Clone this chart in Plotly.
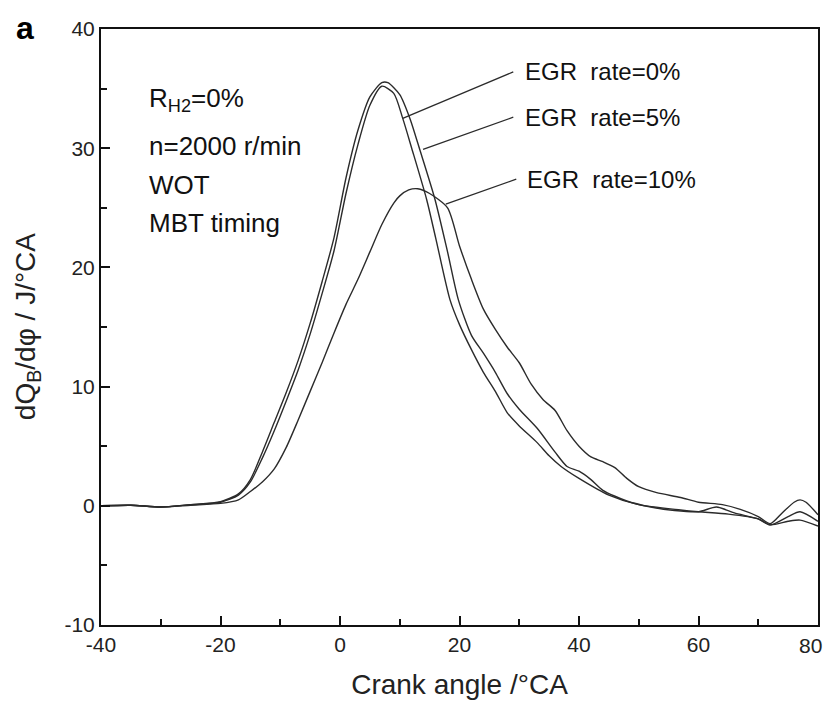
"""
Heat release rate vs crank angle for three EGR rates
"""

import plotly.graph_objects as go

# crank angle (deg CA) and heat release rate (J/deg CA)
angle_0 = [-40, -35, -30, -25, -20, -17, -15, -13, -11, -9, -7, -5, -3, -1, 1, 3, 5, 7, 9,
           10.5, 12, 14.5, 16, 18.4, 20, 22, 24, 26, 28, 30, 33, 35, 37, 40, 45, 50, 57,
           60, 65, 70, 72, 75, 77, 80]
egr_0 = [0, 0.05, -0.1, 0.1, 0.3, 0.9, 2.0, 4.0, 6.3, 8.8, 11.4, 14.4, 17.8, 21.4, 26.2,
         30.3, 33.6, 35.2, 34.6, 32.5, 30.0, 25.7, 22.5, 17.3, 15.2, 13.1, 11.2, 9.6, 7.8,
         6.7, 5.3, 4.2, 3.3, 2.3, 0.9, 0.1, -0.35, -0.5, -0.7, -1.1, -1.6, -1.3, -1.2, -1.7]

angle_5 = [-40, -35, -30, -25, -20, -17, -15, -13, -11, -9, -7, -5, -3, -1, 1, 3, 5, 7, 8,
           10, 11.7, 13.4, 15.9, 18, 19.8, 22, 24, 26, 28, 30, 33, 36, 38, 40, 42, 44, 48,
           52, 56, 60, 63, 66, 70, 72, 75, 77, 80]
egr_5 = [0, 0.05, -0.1, 0.1, 0.35, 1.0, 2.2, 4.5, 7.0, 9.5, 12.2, 15.3, 18.8, 22.5, 27.5,
         31.5, 34.3, 35.5, 35.5, 34.5, 32.5, 29.8, 25.7, 21.3, 17.3, 14.3, 12.8, 11.2, 9.4,
         8.1, 6.5, 4.5, 3.3, 2.9, 2.2, 1.3, 0.4, -0.1, -0.4, -0.5, -0.1, -0.6, -1.1, -1.6,
         -0.9, -0.5, -1.3]

angle_10 = [-40, -35, -30, -25, -20, -17, -15, -13, -11, -9, -7, -5, -3, -1, 1, 3, 5, 7, 9,
            10, 11.5, 13, 15, 18, 20, 22, 24, 26, 28, 30, 32, 34, 36, 38, 40, 42, 44, 46,
            48, 50, 53, 57, 60, 64, 67, 70, 72, 74, 76, 77, 78, 80]
egr_10 = [0, 0.05, -0.1, 0.05, 0.2, 0.5, 1.2, 2.0, 3.1, 4.9, 7.2, 9.6, 12.0, 14.5, 16.9,
          19.0, 21.3, 23.6, 25.4, 26.0, 26.5, 26.6, 26.2, 25.0, 21.8, 19.0, 16.5, 14.8,
          13.3, 12.0, 10.2, 8.9, 8.0, 6.3, 5.0, 4.1, 3.7, 3.2, 2.3, 1.6, 1.1, 0.7, 0.3,
          0.1, -0.3, -0.9, -1.5, -0.6, 0.3, 0.5, 0.3, -0.75]

x_ticks = [-40, -20, 0, 20, 40, 60, 80]
y_ticks = [-10, 0, 10, 20, 30, 40]

FONT = "Liberation Sans, Arial, sans-serif"
LINE = "#2b2b2b"

fig = go.Figure()

for xs, ys, name in [(angle_0, egr_0, "EGR rate=0%"),
                     (angle_5, egr_5, "EGR rate=5%"),
                     (angle_10, egr_10, "EGR rate=10%")]:
    fig.add_trace(go.Scatter(
        x=xs, y=ys, mode="lines", name=name,
        line=dict(color=LINE, width=1.4, shape="spline", smoothing=0.7),
    ))

# curve labels with pointer lines
labels = [
    ("EGR  rate=0%", 30.6, 36.4, 29.0, 36.4, 10.5, 32.5),
    ("EGR  rate=5%", 30.6, 32.6, 29.0, 32.6, 13.9, 29.9),
    ("EGR  rate=10%", 31.0, 27.4, 29.5, 27.4, 17.7, 25.3),
]
for text, tx, ty, x0, y0, x1, y1 in labels:
    fig.add_annotation(x=tx, y=ty, text=text, showarrow=False, xanchor="left",
                       yanchor="middle", font=dict(size=24, color="#111", family=FONT))
    fig.add_shape(type="line", x0=x0, y0=y0, x1=x1, y1=y1,
                  line=dict(color=LINE, width=1.3))

# operating conditions
conditions = ["R<sub>H2</sub>=0%", "n=2000 r/min", "WOT", "MBT timing"]
cond_y = [34.1, 30.2, 26.95, 23.7]
for text, y in zip(conditions, cond_y):
    fig.add_annotation(x=-32.3, y=y, text=text, showarrow=False,
                       xanchor="left", yanchor="middle",
                       font=dict(size=26, color="#111", family=FONT))

# panel letter
fig.add_annotation(x=-0.121, y=1.035, xref="paper", yref="paper", text="<b>a</b>",
                   showarrow=False, xanchor="left", yanchor="top",
                   font=dict(size=32, color="#000", family=FONT))

# y axis title
fig.add_annotation(x=-0.103, y=0.5, xref="paper", yref="paper",
                   text="dQ<sub>B</sub>/dφ / J/°CA", textangle=-90, showarrow=False,
                   xanchor="center", yanchor="middle",
                   font=dict(size=28, color="#222", family=FONT))

# last x tick label is pulled in a little so it stays on the page
x_ticktext = [str(v) for v in x_ticks]
x_ticktext[-1] = ""
fig.add_annotation(x=1.008, y=-0.012, xref="paper", yref="paper", text=str(x_ticks[-1]),
                   showarrow=False, xanchor="right", yanchor="top",
                   font=dict(size=21, color="#222", family=FONT))

axis_style = dict(
    showline=True, linecolor="#111", linewidth=2, mirror=True,
    ticks="inside", ticklen=9, tickwidth=2, tickcolor="#111",
    showgrid=False, zeroline=False, ticklabeloverflow="allow", automargin=False,
    tickfont=dict(size=21, color="#222", family=FONT),
)

fig.update_layout(
    width=824, height=692,
    margin=dict(l=93, r=14, t=21, b=75),
    paper_bgcolor="white", plot_bgcolor="white",
    showlegend=False,
    xaxis=dict(range=[-40, 80], tickvals=x_ticks, ticktext=x_ticktext,
               minor=dict(ticks="inside", dtick=10, ticklen=6, tickwidth=1.5,
                          tickcolor="#111"),
               title=dict(text="Crank angle /°CA", standoff=20,
                          font=dict(size=28, color="#222", family=FONT)),
               **axis_style),
    yaxis=dict(range=[-10, 40], tickvals=y_ticks, ticktext=[str(v) for v in y_ticks],
               minor=dict(ticks="inside", dtick=5, ticklen=6, tickwidth=1.5,
                          tickcolor="#111"),
               **axis_style),
)

fig.write_html("out.html")
